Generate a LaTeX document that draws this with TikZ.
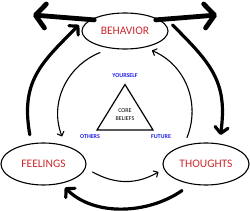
\documentclass[tikz,border=0pt]{standalone}
\usepackage{fontspec}
\setmainfont{Carlito}
\usetikzlibrary{arrows.meta,shapes.geometric}
\definecolor{lblred}{RGB}{205,40,45}
\definecolor{lblblue}{RGB}{30,30,235}
\begin{document}
\begin{tikzpicture}[x=1pt,y=1pt,
  stage/.style={draw,ellipse,line width=1.1pt,inner sep=0pt,font=\fontsize{11.5}{12}\selectfont,text=lblred},
  sidelbl/.style={font=\bfseries\fontsize{6}{7}\selectfont,text=lblblue,inner sep=0pt},
  hugearrow/.style={line width=4.8pt,line cap=round,-{Straight Barb[length=10pt,width=24pt,round]}},
  bigarrow/.style={line width=3.2pt,line cap=round,-{Straight Barb[length=6pt,width=13pt,round]}},
  thinarrow/.style={line width=1.1pt,line cap=round,-{Straight Barb[length=3.5pt,width=7pt,round]}}]
\useasboundingbox (0,0) rectangle (250,-211);
\node[stage,minimum width=86pt,minimum height=36pt] (behavior) at (125,-31) {BEHAVIOR};
\node[stage,minimum width=85pt,minimum height=42pt] (feelings) at (43.5,-164) {FEELINGS};
\node[stage,minimum width=86pt,minimum height=42pt] (thoughts) at (206,-164) {THOUGHTS};
% outer arrows
\coordinate (leftout) at (33,-15);
\coordinate (rightout) at (217,-15);
\draw[hugearrow] ([yshift=-2pt]behavior.north west) -- (leftout);
\draw[hugearrow] ([yshift=-2pt]behavior.north east) -- (rightout);
% big cycle
\draw[bigarrow] ([shift={(-13.7,7.7)}]feelings.north) to[out=100,in=225,looseness=1.15] ([shift={(-2.5,6)}]behavior.west);
\draw[bigarrow] ([shift={(4,6)}]behavior.east) to[out=-45,in=82,looseness=1.15] ([shift={(14.5,7.5)}]thoughts.north);
\draw[bigarrow] ([shift={(-24,-5)}]thoughts.south) to[out=215,in=-45,looseness=0.9] ([shift={(21.5,-2)}]feelings.south);
% inner cycle
\draw[thinarrow] ([shift={(-25,-3)}]behavior.south) to[out=202,in=111] ([shift={(18.5,6)}]feelings.north);
\draw[thinarrow] ([shift={(-19,5)}]thoughts.north) to[out=68,in=-23] ([shift={(27,-1)}]behavior.south);
\draw[thinarrow] ([shift={(6,-8)}]feelings.east) to[out=-29,in=210] ([shift={(-4,-8)}]thoughts.west);
% core beliefs triangle
\coordinate (ttop) at (125,-84.5);
\coordinate (tleft) at (97,-130);
\coordinate (tright) at (153,-130);
\draw[line width=1.2pt,line join=miter] (ttop) -- (tleft) -- (tright) -- cycle;
\node[font=\fontsize{6}{8.5}\selectfont,align=center,inner sep=0pt] (core) at (125,-114.5) {CORE\\BELIEFS};
\node[sidelbl] (yourself) at (125,-76) {YOURSELF};
\node[sidelbl] (others) at (90,-137) {OTHERS};
\node[sidelbl] (future) at (161,-137) {FUTURE};
\end{tikzpicture}
\end{document}
